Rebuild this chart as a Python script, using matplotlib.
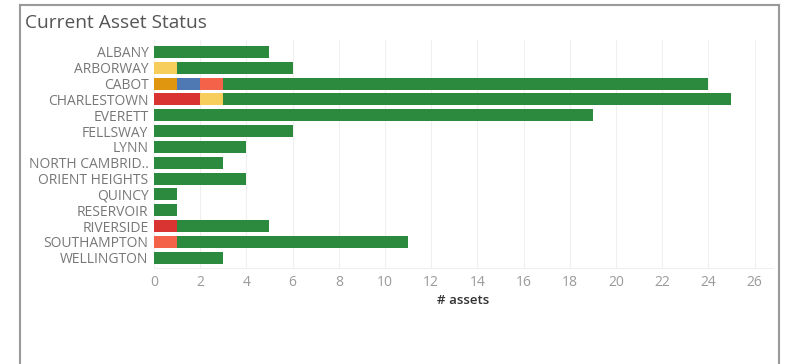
import matplotlib
matplotlib.use("Agg")
import matplotlib.pyplot as plt
from matplotlib.lines import Line2D
import numpy as np

plt.rcParams['font.family'] = ['Open Sans', 'DejaVu Sans']

categories = ["ALBANY", "ARBORWAY", "CABOT", "CHARLESTOWN", "EVERETT", "FELLSWAY",
              "LYNN", "NORTH CAMBRID..", "ORIENT HEIGHTS", "QUINCY", "RESERVOIR",
              "RIVERSIDE", "SOUTHAMPTON", "WELLINGTON"]

# stacked segments, left to right
status_red    = [0, 0, 0, 2, 0, 0, 0, 0, 0, 0, 0, 1, 0, 0]
status_orange = [0, 0, 1, 0, 0, 0, 0, 0, 0, 0, 0, 0, 0, 0]
status_blue   = [0, 0, 1, 0, 0, 0, 0, 0, 0, 0, 0, 0, 0, 0]
status_salmon = [0, 0, 1, 0, 0, 0, 0, 0, 0, 0, 0, 0, 1, 0]
status_yellow = [0, 1, 0, 1, 0, 0, 0, 0, 0, 0, 0, 0, 0, 0]
status_green  = [5, 5, 21, 22, 19, 6, 4, 3, 4, 1, 1, 4, 10, 3]

x_ticks = list(range(0, 27, 2))

series = [
    (status_red, "#d93431"),
    (status_orange, "#e0960f"),
    (status_blue, "#4f79b3"),
    (status_salmon, "#f5624a"),
    (status_yellow, "#f7cd5c"),
    (status_green, "#2b8a3e"),
]

W, H = 787, 364
fig = plt.figure(figsize=(W / 100, H / 100), dpi=100)

left_px, right_px, top_px, bot_px = 154, 773, 40, 268
ax = fig.add_axes([left_px / W, 1 - bot_px / H, (right_px - left_px) / W, (bot_px - top_px) / H])

y = np.arange(len(categories))
base = np.zeros(len(categories))
for vals, col in series:
    v = np.array(vals, dtype=float)
    ax.barh(y, v, left=base, height=0.76, color=col, edgecolor="none", zorder=3)
    base += v

ax.set_ylim(len(categories) - 0.35, -0.75)
ax.set_xlim(0, 26.8)
ax.set_yticks(y)
ax.set_yticklabels(categories, fontsize=10, color="#777777")
ax.set_xticks(x_ticks)
ax.set_xticklabels([str(t) for t in x_ticks], fontsize=10, color="#9a9a9a")
ax.tick_params(axis="both", length=0)
ax.tick_params(axis="y", pad=4)
ax.tick_params(axis="x", pad=5)
for lbl in ax.get_xticklabels():
    lbl.set_x(lbl.get_position()[0])
ax.grid(axis="x", color="#f0f0f0", linewidth=0.8, zorder=0)
for s in ["top", "right", "left"]:
    ax.spines[s].set_visible(False)
ax.spines["bottom"].set_color("#eeeeee")
ax.set_xlabel("# assets", fontsize=9.5, color="#333333", fontweight="semibold", labelpad=3)

fig.text(25 / W, 1 - 23 / H, "Current Asset Status", fontsize=13.8, color="#555555",
         ha="left", va="center")

# outer frame
fc = "#9a9a9a"
fig.add_artist(Line2D([20 / W, 20 / W], [0, 1 - 5 / H], color=fc, lw=1.5))
fig.add_artist(Line2D([779 / W, 779 / W], [0, 1 - 5 / H], color=fc, lw=1.5))
fig.add_artist(Line2D([20 / W, 779 / W], [1 - 5 / H, 1 - 5 / H], color=fc, lw=1.5))

fig.savefig("out.png", dpi=100)
